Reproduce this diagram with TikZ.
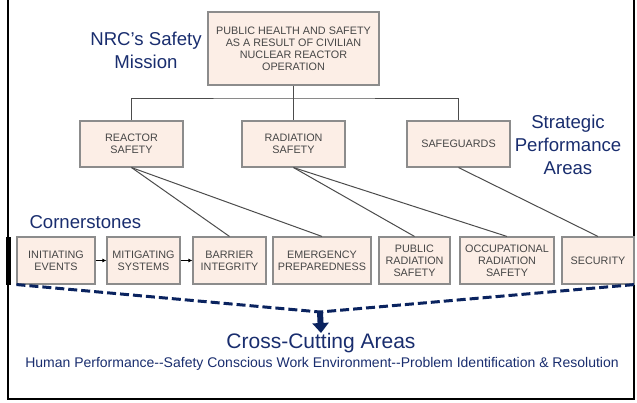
\documentclass[tikz,border=0pt]{standalone}
\usepackage{fontspec}
\setmainfont{Liberation Sans}
\usetikzlibrary{arrows.meta}

\definecolor{boxfill}{RGB}{252,238,230}
\definecolor{boxline}{RGB}{140,140,140}
\definecolor{boxtext}{RGB}{70,70,70}
\definecolor{navytext}{RGB}{25,45,110}
\definecolor{navyline}{RGB}{10,35,95}

\begin{document}
\begin{tikzpicture}[x=1pt,y=-1pt,
    box/.style={draw=boxline,fill=boxfill,line width=1.1pt,align=center,
      text=boxtext,inner sep=1pt,font=\fontsize{10.8}{12}\selectfont},
    title/.style={text=navytext,align=center,font=\fontsize{18.6}{23}\selectfont},
    tree/.style={draw=black!70,line width=1pt}]
      \useasboundingbox (0,0) rectangle (637,402);

      % outer frame
      \draw[line width=2.5pt] (8,-5) -- (8,399) -- (634,399) -- (634,-5);
      \draw[line width=5pt] (8,237) -- (8,285);

      % mission
      \node[box,minimum width=171pt,minimum height=73pt] (mission) at (293.5,48.5)
        {PUBLIC HEALTH AND SAFETY\\AS A RESULT OF CIVILIAN\\NUCLEAR REACTOR\\OPERATION};
      \node[title] (nrc) at (146,50) {NRC’s Safety\\Mission};

      % strategic performance areas
      \node[box,minimum width=103pt,minimum height=46pt] (reactor) at (131.5,144) {REACTOR\\SAFETY};
      \node[box,minimum width=103pt,minimum height=46pt] (radiation) at (293.5,144) {RADIATION\\SAFETY};
      \node[box,minimum width=103pt,minimum height=46pt] (safeguards) at (458.5,144) {SAFEGUARDS};
      \node[title] (spa) at (568,145) {Strategic\\Performance\\Areas};

      \coordinate (bus) at (293.5,98);
      \draw[tree] (mission.south) -- (radiation.north);
      \draw[tree] (reactor.north) |- (bus) -| (safeguards.north);

      % cornerstones
      \node[title,anchor=west] (corner) at (26,222) {Cornerstones};
      \node[box,minimum width=78pt,minimum height=47pt] (events) at (56,260.5) {INITIATING\\EVENTS};
      \node[box,minimum width=73pt,minimum height=47pt] (mitig) at (143.5,260.5) {MITIGATING\\SYSTEMS};
      \node[box,minimum width=73pt,minimum height=47pt] (barrier) at (229.5,260.5) {BARRIER\\INTEGRITY};
      \node[box,minimum width=98pt,minimum height=47pt] (emerg) at (322,260.5) {EMERGENCY\\PREPAREDNESS};
      \node[box,minimum width=71pt,minimum height=47pt] (pubrad) at (414.5,260.5) {PUBLIC\\RADIATION\\SAFETY};
      \node[box,minimum width=94pt,minimum height=47pt] (occrad) at (507,260.5) {OCCUPATIONAL\\RADIATION\\SAFETY};
      \node[box,minimum width=72pt,minimum height=47pt] (secur) at (598,260.5) {SECURITY};

      \draw[-{Latex[length=4pt,width=4pt]},line width=0.8pt] (events.east) -- (mitig.west);
      \draw[-{Latex[length=4pt,width=4pt]},line width=0.8pt] (mitig.east) -- (barrier.west);

      \draw[tree] (reactor.south) -- (barrier.north);
      \draw[tree] (reactor.south) -- (emerg.north);
      \draw[tree] (radiation.south) -- (pubrad.north);
      \draw[tree] (radiation.south) -- (occrad.north);
      \draw[tree] (safeguards.south) -- (secur.north);

      % cross-cutting areas
      \coordinate (apex) at (320,312);
      \draw[navyline,line width=3pt,dash pattern=on 9pt off 4pt]
        (events.south west) -- (apex) -- (secur.south east);
      \node[text=navytext,inner sep=0pt,font=\fontsize{21}{24}\selectfont] (cross) at (321,343) {Cross-Cutting Areas};
      \node[text=navytext,inner sep=0pt,font=\fontsize{14}{16}\selectfont] (themes) at (322,364)
        {Human Performance-{}-Safety Conscious Work Environment-{}-Problem Identification \& Resolution};
      \draw[navyline,line width=6pt,-{Triangle[width=16pt,length=10pt]}] (apex) -- (cross.north);
    \end{tikzpicture}
\end{document}
